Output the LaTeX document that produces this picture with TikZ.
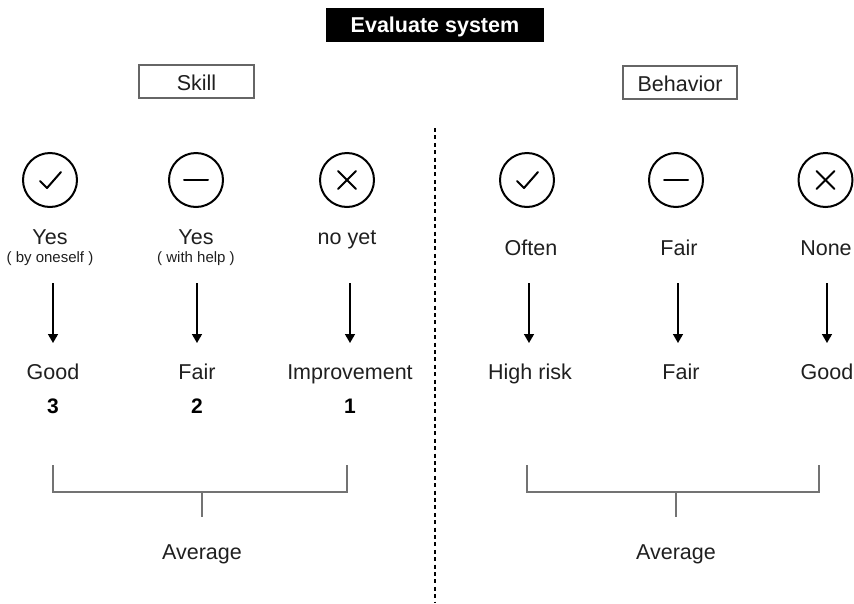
\documentclass[tikz,border=0pt]{standalone}
\usepackage{fontspec}
\setmainfont{Liberation Sans}
\usetikzlibrary{arrows.meta}
\begin{document}
\begin{tikzpicture}[x=1pt,y=-1pt,
  txt/.style={anchor=base, inner sep=0pt, font=\fontsize{21.5}{23}\selectfont, text=black!88},
  small/.style={anchor=base, inner sep=0pt, font=\fontsize{15}{16}\selectfont, text=black!88},
  num/.style={anchor=base, inner sep=0pt, font=\bfseries\fontsize{21}{23}\selectfont},
  hbox/.style={draw=black!60, line width=1.2pt, inner sep=0pt, minimum height=33pt},
  icon/.style={circle, draw, line width=2pt, minimum size=54pt, inner sep=0pt},
  glyph/.style={line width=2pt, line cap=round, line join=round},
  arr/.style={line width=1.5pt, -{Triangle[length=9pt,width=10pt]}},
  brk/.style={draw=black!55, line width=1.2pt},
]
\useasboundingbox (0,0) rectangle (854,603);

% title
\node[fill=black, minimum width=218pt, minimum height=34pt, inner sep=0pt] (title) at (435,25) {};
\node[anchor=base, inner sep=0pt, text=white, font=\bfseries\fontsize{21.5}{23}\selectfont] (titletext) at (435,32.5) {Evaluate system};

% headers
\node[hbox, minimum width=115pt] (skill) at (196.5,81.5) {};
\node[txt] (skilltext) at (196.5,90) {Skill};
\node[hbox, minimum width=114pt] (behav) at (680,82.5) {};
\node[txt] (behavtext) at (680,91) {Behavior};

% dotted divider
\coordinate (dtop) at (435,128);
\coordinate (dbot) at (435,603);
\draw[line width=1.6pt, dash pattern=on 4pt off 3.4pt] (dtop) -- (dbot);

% icons
\node[icon] (c1) at (50,180) {};
\node[icon] (c2) at (196,180) {};
\node[icon] (c3) at (347,180) {};
\node[icon] (c4) at (527,180) {};
\node[icon] (c5) at (676,180) {};
\node[icon] (c6) at (825.5,180) {};
\foreach \c in {c1,c4}{
  \draw[glyph] ([shift={(-10,1)}]\c.center) -- ++(7,7) -- ++(14,-16);
}
\foreach \c in {c2,c5}{
  \draw[glyph] ([shift={(-12,0)}]\c.center) -- ++(24,0);
}
\foreach \c in {c3,c6}{
  \draw[glyph] ([shift={(-9,-9)}]\c.center) -- ++(18,18);
  \draw[glyph] ([shift={(-9,9)}]\c.center) -- ++(18,-18);
}

% labels under icons
\node[txt] (l1) at (50,244) {Yes};
\node[small] (l1s) at (50,262) {( by oneself )};
\node[txt] (l2) at (196,244) {Yes};
\node[small] (l2s) at (196,262) {( with help )};
\node[txt] (l3) at (347,244) {no yet};
\node[txt] (l4) at (531,255) {Often};
\node[txt] (l5) at (679,255) {Fair};
\node[txt] (l6) at (826,255) {None};

% arrows
\foreach \i/\x in {1/53,2/197,3/350,4/529,5/678,6/827}{
  \coordinate (a\i) at (\x,283);
  \coordinate (b\i) at (\x,343);
  \draw[arr] (a\i) -- (b\i);
}

% results
\node[txt] (r1) at (53,379) {Good};
\node[txt] (r2) at (197,379) {Fair};
\node[txt] (r3) at (350,379) {Improvement};
\node[txt] (r4) at (530,379) {High risk};
\node[txt] (r5) at (681,379) {Fair};
\node[txt] (r6) at (827,379) {Good};
\node[num] (n1) at (53,413) {3};
\node[num] (n2) at (197,413) {2};
\node[num] (n3) at (350,413) {1};

% brackets
\coordinate (k1a) at (53,465);  \coordinate (k1b) at (347,465);
\coordinate (k1m) at (202,492); \coordinate (k1s) at (202,517);
\draw[brk] (k1a) -- (k1a |- k1m) -- (k1b |- k1m) -- (k1b);
\draw[brk] (k1m) -- (k1s);
\node[txt] (avg1) at (202,559) {Average};

\coordinate (k2a) at (527,465);  \coordinate (k2b) at (819,465);
\coordinate (k2m) at (676,492); \coordinate (k2s) at (676,517);
\draw[brk] (k2a) -- (k2a |- k2m) -- (k2b |- k2m) -- (k2b);
\draw[brk] (k2m) -- (k2s);
\node[txt] (avg2) at (676,559) {Average};
\end{tikzpicture}
\end{document}
